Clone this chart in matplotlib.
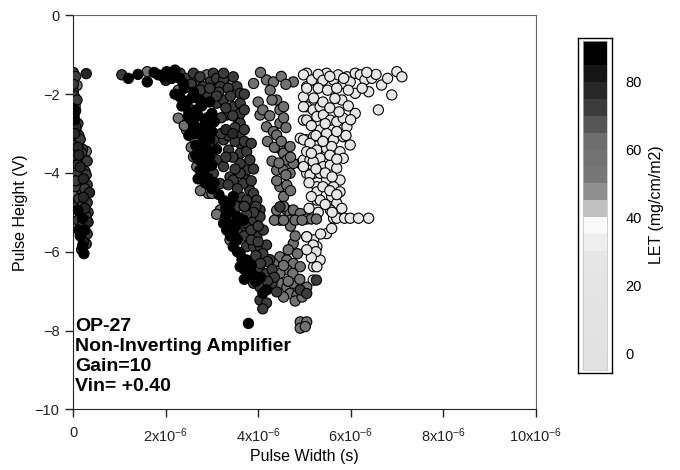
import numpy as np
import matplotlib.pyplot as plt
from matplotlib.colors import ListedColormap, BoundaryNorm

plt.rcParams['font.family'] = ['Liberation Sans', 'DejaVu Sans']
plt.rcParams['mathtext.default'] = 'regular'

# pulse width in microseconds, pulse height in volts, grouped by ion LET (mg/cm/m2)
pw_let90 = [0.02, 0.02, 0.20, 0.25, 0.15, 0.23, 0.10, 0.12, 0.20, 0.03,
            1.19, 1.60, 1.84, 2.02, 2.13, 2.20, 2.38, 1.95, 2.31, 2.45, 2.74, 2.67,
            3.00, 2.49, 2.85, 2.60, 2.60, 2.74, 2.89, 3.00, 2.74, 2.89, 2.74, 2.89,
            2.81, 2.92, 3.39, 3.46, 3.25, 3.32, 3.46, 3.46, 3.61, 3.75, 3.61, 3.82,
            3.68, 3.54, 4.18, 3.79, 2.56, 2.63, 2.81, 2.95, 2.70, 2.85, 3.05, 3.40,
            3.55, 3.70, 3.95,
            2.35, 2.50, 2.55, 2.70, 2.78, 2.95, 2.90, 3.05, 2.50, 2.65, 2.80, 2.95,
            3.10, 2.65, 2.80, 3.00, 2.70, 2.85, 3.00, 3.15, 3.25, 3.30, 3.30, 3.40,
            3.50, 3.40, 3.55, 3.65, 3.70, 3.85, 3.90, 4.05, 4.10, 2.40, 2.60, 2.20,
            1.75, 1.40, 2.10, 2.30]
ph_let90 = [-2.52, -2.38, -5.15, -5.45, -5.60, -6.05, -4.95, -5.45, -5.85, -2.65,
            -1.60, -1.69, -1.51, -1.43, -1.60, -1.39, -1.73, -1.56, -2.07, -2.19, -2.15, -2.40,
            -2.49, -2.57, -2.66, -2.74, -2.87, -2.87, -2.83, -2.95, -3.38, -3.42, -3.93, -3.84,
            -4.01, -4.14, -4.77, -4.60, -5.28, -5.45, -5.54, -5.87, -6.04, -6.21, -6.38, -6.55,
            -5.20, -5.11, -6.97, -7.82, -2.10, -3.00, -3.20, -3.60, -3.65, -3.55, -4.25, -5.00,
            -5.70, -6.70, -6.75,
            -2.30, -2.45, -2.65, -2.55, -2.30, -2.20, -2.60, -2.70, -3.05, -3.30, -3.05, -3.15,
            -3.40, -3.55, -3.75, -3.80, -4.15, -4.25, -4.40, -4.55, -4.70, -4.90, -5.10, -5.30,
            -5.35, -5.60, -6.00, -6.20, -6.45, -6.35, -6.60, -6.65, -7.05, -1.85, -1.95, -2.00,
            -1.45, -1.50, -1.50, -1.60]

pw_let78 = [0.28, 0.05, 0.06, 0.03, 0.10, 0.12, 0.15, 0.22, 0.35, 0.22, 0.25, 0.32,
            0.22, 2.00, 2.20, 3.30, 3.45]
ph_let78 = [-1.48, -2.42, -2.85, -3.00, -3.35, -3.55, -3.85, -4.15, -4.50, -4.62, -4.90, -5.25,
            -5.75, -1.65, -1.55, -2.90, -3.00]

pw_let72 = [0.00, 0.00, 0.00, 0.02, 0.04, 0.08, 0.20, 0.22, 0.05, 0.25, 0.08, 0.30,
            0.10, 0.32, 0.15, 0.06, 0.12, 0.18,
            0.05, 0.08, 0.00, 0.10, 0.15, 0.00, 0.18, 0.30, 0.10, 0.28, 0.15, 0.05,
            0.25, 0.12, 0.30, 0.18, 0.28, 0.10, 0.20, 0.30, 0.18, 0.28, 0.18, 0.00,
            0.00, 0.02, 0.05,
            1.05, 2.31, 2.45, 2.60, 2.67, 2.74, 2.96, 3.03, 3.10, 3.25, 3.25, 3.54,
            3.46, 2.81, 3.18, 2.56, 2.89, 3.10, 3.25, 3.32, 3.46, 3.57, 3.10, 3.25,
            3.00, 3.03, 3.10, 3.25, 3.39, 3.46, 3.18, 3.36, 3.61, 3.75, 3.82, 3.75,
            3.75, 3.82, 3.90, 3.97, 4.04, 3.61, 3.61, 3.61, 3.61, 3.61, 3.61, 3.61,
            3.61, 3.68, 3.54, 3.61, 3.75, 3.82, 3.61, 3.75, 3.90, 4.04, 3.90, 4.04,
            4.18, 3.75, 3.90, 4.04, 4.18, 3.97, 4.11, 3.90, 4.04, 4.04, 4.18, 4.47,
            4.40, 4.91, 5.05, 5.26, 4.30, 4.25,
            3.15, 3.35, 3.40, 3.30, 3.20, 3.45, 3.50, 3.35, 3.20, 3.50, 3.45, 3.30,
            3.50, 3.35, 3.55, 3.70, 3.70, 3.70, 3.70, 3.55, 3.70, 3.85, 3.85, 4.00,
            4.10, 4.20, 3.95, 4.05, 4.30, 4.35, 4.20, 4.10, 3.95, 3.90, 3.75, 3.70,
            3.85, 3.90, 3.85, 4.00, 2.75, 2.55, 2.95, 3.10]
ph_let72 = [-1.45, -1.60, -1.92, -2.05, -2.70, -3.20, -3.40, -3.65, -3.70, -3.95, -4.05, -4.30,
            -4.80, -5.00, -5.35, -2.95, -3.05, -4.45,
            -1.55, -2.15, -2.50, -2.75, -3.15, -3.30, -3.50, -3.70, -3.80, -4.05, -4.25, -4.35,
            -4.40, -4.65, -4.75, -4.85, -5.10, -5.20, -5.30, -5.55, -5.50, -5.80, -5.95, -1.75,
            -2.85, -3.55, -4.20,
            -1.51, -1.47, -1.60, -1.47, -1.69, -1.56, -1.69, -1.47, -1.60, -1.64, -1.47, -1.81,
            -1.56, -1.81, -1.81, -2.40, -1.98, -2.23, -2.15, -2.53, -2.32, -2.66, -3.12, -3.16,
            -3.38, -4.01, -3.67, -3.84, -4.10, -4.18, -4.27, -3.42, -3.50, -3.46, -3.67, -3.93,
            -4.18, -4.44, -4.52, -4.69, -4.94, -1.98, -2.23, -2.49, -2.74, -3.00, -3.25, -3.76,
            -4.01, -4.27, -4.86, -4.60, -4.69, -4.94, -5.45, -5.28, -5.20, -5.11, -6.38, -6.46,
            -6.55, -5.87, -5.87, -5.87, -5.83, -5.62, -5.45, -6.80, -6.90, -7.23, -7.30, -4.86,
            -7.02, -6.97, -7.06, -6.72, -6.80, -6.20,
            -1.95, -1.85, -2.05, -2.35, -2.60, -2.55, -2.85, -3.05, -3.00, -3.20, -3.60, -3.60,
            -3.90, -4.30, -4.40, -3.20, -2.90, -2.40, -2.00, -5.50, -5.60, -5.45, -5.70, -5.35,
            -6.05, -6.25, -6.10, -6.30, -6.45, -6.65, -6.75, -7.45, -4.85, -5.00, -5.05, -4.85,
            -4.20, -3.90, -3.25, -5.75, -1.90, -1.75, -1.85, -2.05]

pw_let57 = [0.02, 0.08, 0.04, 0.28, 0.05,
            1.60, 2.89, 3.39, 2.27, 2.27, 2.45, 2.63, 2.60, 2.67, 2.85, 2.92, 3.00,
            3.18, 3.39, 2.40, 2.55, 2.75, 3.10,
            3.90, 4.04, 4.18, 4.33, 4.26, 4.40, 4.47, 4.55, 4.76, 4.18, 4.33, 4.47,
            4.40, 4.47, 4.55, 4.69, 4.62, 4.76, 4.40, 4.55, 4.69, 4.47, 4.62, 4.55,
            4.62, 4.69, 4.76, 4.91, 4.47, 4.69, 5.05, 5.15, 5.26,
            4.76, 4.47, 4.62, 4.76, 4.62, 4.91, 4.47, 4.33,
            4.47, 4.62, 4.76, 4.91, 4.69, 4.84, 4.55,
            4.91, 5.05, 4.91, 5.02,
            4.05, 4.50, 4.60, 4.00, 4.10, 4.25, 4.30, 4.55, 4.60, 4.20, 4.35, 4.50,
            4.70, 4.30, 4.45, 4.60, 4.40, 4.70, 4.55, 4.40, 4.70, 4.80, 4.65, 4.85,
            4.55, 4.75, 4.90, 4.65, 4.80, 4.95, 5.05, 4.35, 4.55, 4.80, 4.95]
ph_let57 = [-1.75, -1.78, -2.30, -3.45, -4.55,
            -1.43, -1.51, -1.69, -1.90, -2.61, -2.91, -3.16, -3.59, -3.84, -4.35, -4.52, -4.52,
            -4.94, -5.70, -2.80, -3.35, -4.45, -5.05,
            -1.73, -2.53, -1.64, -1.69, -1.90, -2.15, -2.40, -2.32, -1.69, -2.83, -2.95, -2.74,
            -3.04, -3.38, -3.50, -3.33, -3.67, -3.76, -3.93, -3.93, -4.01, -4.35, -4.31, -4.60,
            -4.94, -5.03, -4.94, -5.03, -5.20, -5.20, -5.17, -5.17, -5.17,
            -5.79, -6.13, -6.21, -6.30, -6.46, -6.38, -6.55, -6.30,
            -6.80, -6.90, -6.80, -6.97, -7.06, -7.10, -7.15,
            -7.78, -7.78, -7.94, -7.90,
            -1.45, -1.55, -1.75, -2.20, -2.40, -2.55, -2.15, -2.60, -2.85, -3.20, -3.35, -3.20,
            -3.60, -3.70, -3.75, -4.05, -4.20, -4.45, -4.85, -4.95, -5.35, -5.60, -5.95, -6.05,
            -6.35, -6.55, -6.70, -6.75, -7.25, -7.15, -6.90, -5.20, -5.20, -5.20, -5.20]

pw_let25 = [0.01,
            5.05, 5.20, 5.05, 4.98, 5.05, 4.98, 4.91, 5.05, 5.20, 4.91, 4.98, 5.12,
            5.27, 5.05, 5.20, 5.27, 5.27, 5.05, 5.20, 5.27, 5.20, 5.34,
            4.98, 5.16, 5.05, 5.48, 5.63, 5.73, 5.84, 5.92, 5.99, 6.10, 6.21, 6.31,
            6.46, 6.67, 6.39, 6.10, 5.81, 5.66, 7.00, 7.11, 6.89, 6.60, 6.10,
            4.98, 5.19, 5.34, 5.05, 5.27, 5.41, 5.56, 5.70, 5.84, 5.92, 5.34, 5.48,
            5.63, 5.84, 5.99, 4.98, 5.12, 5.05, 5.27, 5.48, 5.59, 5.77, 5.84, 5.34,
            5.19, 4.98, 5.41, 5.56, 5.70, 5.12, 5.34, 5.48, 5.77, 5.63, 5.77, 5.27,
            5.34, 5.59, 5.70, 5.81, 5.56, 5.63,
            5.70, 5.87, 5.99, 6.17, 6.39,
            5.48, 5.59, 5.05, 5.19, 5.27, 5.19,
            5.30, 5.40, 5.55, 5.30, 5.50, 5.70, 5.95, 6.25, 5.20, 5.40, 5.55, 5.75,
            5.95, 6.00, 5.15, 5.45, 5.70, 5.90, 5.25, 5.40, 5.55, 5.70, 5.15, 5.25,
            5.45, 5.60, 5.10, 5.40, 5.55, 5.15, 5.45, 5.70, 5.30, 5.60, 5.10, 5.25,
            5.15, 5.05, 5.35, 6.55, 6.80, 6.35, 5.85]
ph_let25 = [-2.22,
            -1.47, -1.64, -1.81, -2.07, -2.32, -2.66, -3.12, -3.16, -3.08, -3.76, -3.67, -3.67,
            -3.50, -4.01, -4.01, -4.35, -4.69, -5.62, -5.70, -5.87, -6.38, -6.21,
            -1.51, -1.64, -1.85, -1.47, -1.64, -1.51, -1.73, -1.56, -1.69, -1.47, -1.51, -1.64,
            -1.60, -1.77, -1.94, -1.98, -2.15, -2.11, -1.43, -1.56, -2.02, -2.40, -2.49,
            -2.32, -2.40, -2.32, -2.66, -2.57, -2.53, -2.66, -2.70, -2.61, -2.83, -2.91, -3.00,
            -3.16, -3.08, -3.29, -3.16, -3.25, -3.46, -3.42, -3.38, -3.33, -3.46, -3.63, -3.63,
            -3.71, -3.84, -3.84, -3.80, -3.88, -4.05, -4.01, -4.18, -4.18, -4.35, -4.48, -4.48,
            -4.69, -4.60, -4.77, -4.90, -4.94, -5.15,
            -5.15, -5.15, -5.15, -5.15, -5.15,
            -5.54, -5.41, -5.62, -5.83, -6.38, -6.72,
            -1.50, -1.65, -1.55, -1.85, -1.90, -1.85, -1.90, -1.85, -2.10, -2.20, -2.35, -2.45,
            -2.30, -2.65, -2.80, -2.75, -2.95, -3.05, -3.05, -3.20, -3.55, -3.65, -3.50, -3.90,
            -4.00, -4.10, -4.25, -4.35, -4.45, -4.60, -4.80, -4.55, -5.00, -5.00, -4.90, -6.00,
            -6.15, -5.95, -5.55, -1.50, -1.60, -1.45, -1.60]

let_values = [25, 57, 72, 78, 90]

# stepped grey scale of the LET colour bar, 5 units per step
let_bounds = [-5, 0, 5, 10, 15, 20, 25, 30, 35, 40, 45, 50, 55, 60, 65, 70, 75, 80, 85, 92]
let_colors = ['#e1e1e1', '#e2e2e2', '#e3e3e3', '#e3e3e3', '#e4e4e4', '#e5e5e5', '#e6e6e6',
              '#eeeeee', '#fafafa', '#c0c0c0', '#8f8f8f', '#777777', '#727272', '#6e6e6e',
              '#555555', '#3b3b3b', '#272727', '#151515', '#000000']
cmap = ListedColormap(let_colors)
norm = BoundaryNorm(let_bounds, cmap.N)

groups = [(pw_let25, ph_let25), (pw_let57, ph_let57), (pw_let72, ph_let72),
          (pw_let78, ph_let78), (pw_let90, ph_let90)]
pw = np.concatenate([g[0] for g in groups]) * 1e-6
ph = np.concatenate([g[1] for g in groups])
let = np.concatenate([np.full(len(g[0]), v) for g, v in zip(groups, let_values)])

fig = plt.figure(figsize=(6.8, 4.7), dpi=100)
ax = fig.add_axes([0.1078, 0.1291, 0.6797, 0.8383])

sc = ax.scatter(pw, ph, c=let, cmap=cmap, norm=norm, s=54,
                edgecolors='black', linewidths=0.8, zorder=3)

ax.set_xlim(0, 10e-6)
ax.set_ylim(-10, 0)
xt = [0, 2e-6, 4e-6, 6e-6, 8e-6, 10e-6]
ax.set_xticks(xt)
ax.set_xticklabels(['0', '2x10$^{-6}$', '4x10$^{-6}$', '6x10$^{-6}$', '8x10$^{-6}$', '10x10$^{-6}$'])
ax.set_yticks([0, -2, -4, -6, -8, -10])
ax.tick_params(direction='out', length=6, width=1, labelsize=10.5, colors='#222222', pad=4)
ax.tick_params(axis='x', pad=6)

for side in ['top', 'right']:
    ax.spines[side].set_color('#666666')
for side in ['left', 'bottom']:
    ax.spines[side].set_color('#222222')

ax.set_xlabel('Pulse Width (s)', fontsize=11.5, labelpad=3)
ax.set_ylabel('Pulse Height (V)', fontsize=11.5, labelpad=5)

ax.text(0.004, 0.231, 'OP-27\nNon-Inverting Amplifier\nGain=10\nVin= +0.40',
        transform=ax.transAxes, fontsize=14, fontweight='bold', va='top', ha='left',
        linespacing=1.22)

# framed colour bar
frame = fig.add_axes([0.8504, 0.2064, 0.05, 0.7121])
frame.set_xticks([])
frame.set_yticks([])
for sp in frame.spines.values():
    sp.set_linewidth(1.0)

cax = fig.add_axes([0.8574, 0.2128, 0.0355, 0.7000])
cbar = fig.colorbar(sc, cax=cax, spacing='proportional')
cbar.set_ticks([0, 20, 40, 60, 80])
cax.minorticks_off()
cbar.outline.set_linewidth(0.5)
cbar.outline.set_edgecolor('#bbbbbb')
cax.tick_params(length=0, pad=13, labelsize=10.5)
fig.text(0.966, 0.565, 'LET (mg/cm/m2)', rotation=90, ha='center', va='center', fontsize=11.5)

fig.savefig('out.png', dpi=100)
